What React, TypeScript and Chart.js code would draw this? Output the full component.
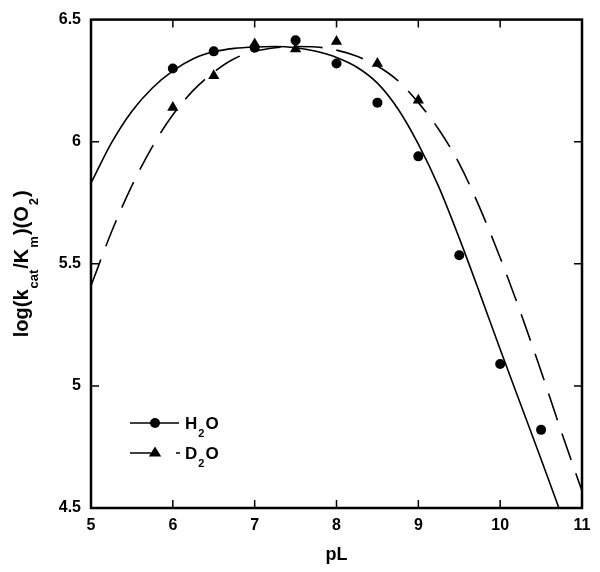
import React, { useEffect, useRef } from "react";
import { Chart, registerables } from "chart.js";

Chart.register(...registerables);

// measured data points
const pH_H2O = [6, 6.5, 7, 7.5, 8, 8.5, 9, 9.5, 10, 10.5];
const val_H2O = [6.30, 6.37, 6.385, 6.415, 6.32, 6.16, 5.94, 5.535, 5.09, 4.82];
const pH_D2O = [6, 6.5, 7, 7.5, 8, 8.5, 9];
const val_D2O = [6.14, 6.27, 6.40, 6.38, 6.41, 6.32, 6.17];

// fitted curves
const fitX_H2O = [5.0, 5.25, 5.5, 5.75, 6.0, 6.25, 6.5, 6.75, 7.0, 7.25, 7.5, 7.75, 8.0, 8.25, 8.5, 8.75, 9.0, 9.25, 9.5, 9.75, 10.0, 10.25, 10.5, 10.75];
const fitY_H2O = [5.83, 5.995, 6.125, 6.22, 6.29, 6.34, 6.368, 6.382, 6.388, 6.39, 6.385, 6.37, 6.345, 6.305, 6.24, 6.135, 5.99, 5.815, 5.605, 5.38, 5.15, 4.925, 4.70, 4.47];
const fitX_D2O = [5.0, 5.25, 5.5, 5.75, 6.0, 6.25, 6.5, 6.75, 7.0, 7.25, 7.5, 7.75, 8.0, 8.25, 8.5, 8.75, 9.0, 9.25, 9.5, 9.75, 10.0, 10.25, 10.5, 10.75, 11.0];
const fitY_D2O = [5.41, 5.63, 5.82, 5.98, 6.11, 6.21, 6.285, 6.34, 6.37, 6.385, 6.39, 6.388, 6.375, 6.35, 6.31, 6.25, 6.16, 6.05, 5.91, 5.73, 5.525, 5.30, 5.06, 4.81, 4.57];

const xTicks = [5, 6, 7, 8, 9, 10, 11];
const yTicks = [4.5, 5, 5.5, 6, 6.5];

const FONT = "'Liberation Sans', Arial, sans-serif";

const zip = (xs: number[], ys: number[]) => xs.map((x, i) => ({ x, y: ys[i] }));

const framePlugin = {
  id: "frame",
  afterDraw(chart: any) {
    const { ctx, chartArea: a, scales } = chart;
    ctx.save();
    ctx.strokeStyle = "#000";
    ctx.lineWidth = 1.5;
    const tl = 8;
    ctx.beginPath();
    xTicks.forEach((v) => {
      if (v === xTicks[0] || v === xTicks[xTicks.length - 1]) return;
      const px = scales.x.getPixelForValue(v);
      ctx.moveTo(px, a.bottom);
      ctx.lineTo(px, a.bottom - tl);
      ctx.moveTo(px, a.top);
      ctx.lineTo(px, a.top + tl);
    });
    yTicks.forEach((v) => {
      if (v === yTicks[0] || v === yTicks[yTicks.length - 1]) return;
      const py = scales.y.getPixelForValue(v);
      ctx.moveTo(a.left, py);
      ctx.lineTo(a.left + tl, py);
      ctx.moveTo(a.right, py);
      ctx.lineTo(a.right - tl, py);
    });
    ctx.stroke();
    ctx.lineWidth = 2.5;
    ctx.strokeRect(a.left, a.top, a.right - a.left, a.bottom - a.top);

    // legend
    ctx.lineWidth = 1.5;
    const y1 = 423;
    const y2 = 453;
    ctx.beginPath();
    ctx.moveTo(130, y1);
    ctx.lineTo(179, y1);
    ctx.moveTo(130, y2);
    ctx.lineTo(151, y2);
    ctx.moveTo(176, y2);
    ctx.lineTo(180, y2);
    ctx.stroke();
    ctx.fillStyle = "#000";
    ctx.beginPath();
    ctx.arc(155, y1, 5, 0, Math.PI * 2);
    ctx.fill();
    ctx.beginPath();
    const r = 6.5;
    ctx.moveTo(155, y2 - r);
    ctx.lineTo(155 + r * 0.95, y2 + r * 0.55);
    ctx.lineTo(155 - r * 0.95, y2 + r * 0.55);
    ctx.closePath();
    ctx.fill();

    const sub = (x: number, yb: number, a1: string, s: string, a2: string) => {
      ctx.font = `bold 17px ${FONT}`;
      ctx.textBaseline = "alphabetic";
      ctx.textAlign = "left";
      ctx.fillText(a1, x, yb);
      let w = ctx.measureText(a1).width + 1;
      ctx.font = `bold 11px ${FONT}`;
      ctx.fillText(s, x + w, yb + 8);
      w += ctx.measureText(s).width + 1;
      ctx.font = `bold 17px ${FONT}`;
      ctx.fillText(a2, x + w, yb);
    };
    sub(185, 429, "H", "2", "O");
    sub(185, 459, "D", "2", "O");

    // x title
    ctx.font = `bold 18px ${FONT}`;
    ctx.textAlign = "center";
    ctx.textBaseline = "alphabetic";
    ctx.fillText("pL", scales.x.getPixelForValue(8), 560);

    // y title, rotated
    const parts: [string, boolean][] = [
      ["log(k", false],
      ["cat", true],
      ["/K", false],
      ["m", true],
      [")(O", false],
      ["2", true],
      [")", false],
    ];
    const mainF = `bold 20px ${FONT}`;
    const subF = `bold 13px ${FONT}`;
    let total = 0;
    parts.forEach(([t, s]) => {
      ctx.font = s ? subF : mainF;
      total += ctx.measureText(t).width + (s ? 2 : 0);
    });
    const cy = (a.top + a.bottom) / 2;
    ctx.translate(28, cy);
    ctx.rotate(-Math.PI / 2);
    let xx = -total / 2;
    ctx.textAlign = "left";
    parts.forEach(([t, s]) => {
      ctx.font = s ? subF : mainF;
      if (s) {
        ctx.fillText(t, xx + 1, 10);
        xx += ctx.measureText(t).width + 2;
      } else {
        ctx.fillText(t, xx, 0);
        xx += ctx.measureText(t).width;
      }
    });
    ctx.restore();
  },
};

export default function App() {
  const ref = useRef<HTMLCanvasElement>(null);
  useEffect(() => {
    document.body.style.margin = "0";
    const chart = new Chart(ref.current as HTMLCanvasElement, {
      type: "scatter",
      data: {
        datasets: [
          {
            type: "line",
            data: zip(fitX_H2O, fitY_H2O),
            borderColor: "#000",
            borderWidth: 1.6,
            pointRadius: 0,
            cubicInterpolationMode: "monotone",
            fill: false,
          },
          {
            type: "line",
            data: zip(fitX_D2O, fitY_D2O),
            borderColor: "#000",
            borderWidth: 1.6,
            borderDash: [28, 14],
            pointRadius: 0,
            cubicInterpolationMode: "monotone",
            fill: false,
          },
          {
            data: zip(pH_H2O, val_H2O),
            pointStyle: "circle",
            pointRadius: 5,
            backgroundColor: "#000",
            borderColor: "#000",
            borderWidth: 0,
          },
          {
            data: zip(pH_D2O, val_D2O),
            pointStyle: "triangle",
            pointRadius: 6.5,
            backgroundColor: "#000",
            borderColor: "#000",
            borderWidth: 0,
          },
        ] as any,
      },
      options: {
        animation: false,
        responsive: false,
        layout: { padding: { top: 17, right: 18, left: 0, bottom: 0 } },
        plugins: { legend: { display: false }, tooltip: { enabled: false } },
        scales: {
          x: {
            type: "linear",
            min: 5,
            max: 11,
            grid: { display: false, drawTicks: false },
            border: { display: false },
            ticks: {
              stepSize: 1,
              padding: 8,
              color: "#000",
              font: { family: FONT, weight: "bold", size: 16 },
            },
            afterFit: (s: any) => {
              s.height = 64;
            },
          },
          y: {
            type: "linear",
            min: 4.5,
            max: 6.5,
            grid: { display: false, drawTicks: false },
            border: { display: false },
            ticks: {
              stepSize: 0.5,
              padding: 10,
              color: "#000",
              font: { family: FONT, weight: "bold", size: 16 },
              callback: (v: any) => String(v),
            },
            afterFit: (s: any) => {
              s.width = 91;
            },
          },
        },
      } as any,
      plugins: [framePlugin],
    });
    return () => chart.destroy();
  }, []);
  return <canvas ref={ref} width={600} height={572} style={{ display: "block" }} />;
}
